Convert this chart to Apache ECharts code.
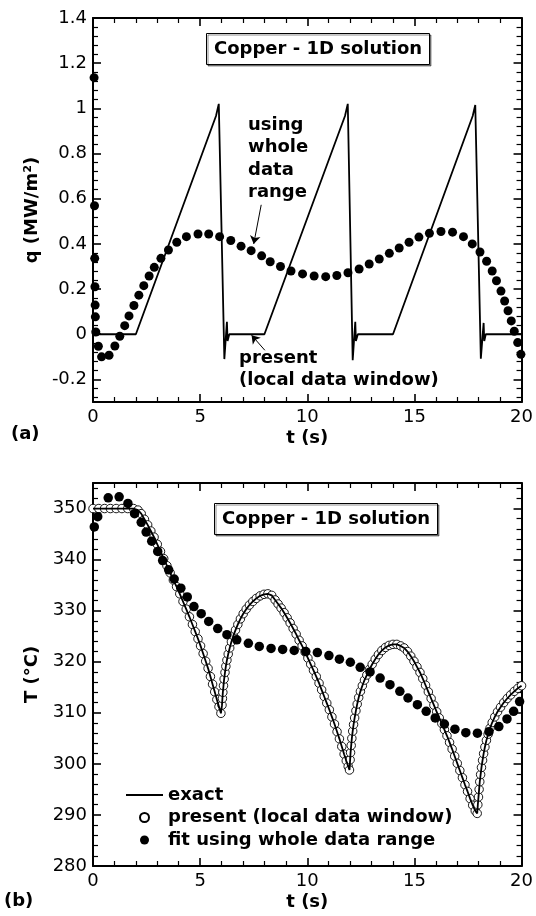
<!DOCTYPE html>
<html><head><meta charset="utf-8">
<script src="https://cdn.jsdelivr.net/npm/echarts@6/dist/echarts.min.js"></script>
<style>html,body{margin:0;padding:0;background:#fff}#c{width:536px;height:916px}</style>
</head><body><div id="c"></div>
<script>
// ================= DATA =================
// shared x axis (time, s)
const timeTicks = [0, 5, 10, 15, 20];

// (a) heat flux q (MW/m2): present (local data window) – line
const qLineTime = [0, 2, 5.74, 5.87, 6.13, 6.25, 6.28, 6.36, 8, 11.76, 11.89, 12.12, 12.24, 12.27, 12.36, 14, 17.72, 17.84, 18.1, 18.23, 18.26, 18.33, 20];
const qLineVal  = [0, 0, 0.966, 1.02, -0.11, 0.055, -0.03, 0, 0, 0.966, 1.02, -0.115, 0.055, -0.03, 0, 0, 0.966, 1.015, -0.108, 0.05, -0.03, 0, 0];

// (a) fit using whole data range – filled dots
const qFitTime = [0.05,0.07,0.08,0.09,0.1,0.11,0.13,0.25,0.4,0.75,1.02,1.25,1.48,1.68,1.91,2.14,2.37,2.62,2.86,3.17,3.52,3.91,4.36,4.9,5.4,5.91,6.43,6.91,7.38,7.87,8.27,8.75,9.24,9.78,10.32,10.86,11.38,11.9,12.42,12.89,13.36,13.83,14.29,14.75,15.21,15.7,16.24,16.78,17.29,17.7,18.06,18.37,18.63,18.83,19.04,19.21,19.37,19.52,19.66,19.82,19.97];
const qFitVal  = [1.136,0.569,0.336,0.21,0.129,0.077,0.01,-0.053,-0.1,-0.093,-0.052,-0.009,0.038,0.081,0.127,0.173,0.215,0.258,0.296,0.336,0.373,0.407,0.432,0.444,0.444,0.432,0.415,0.39,0.37,0.347,0.321,0.3,0.28,0.267,0.258,0.255,0.26,0.272,0.289,0.311,0.333,0.358,0.382,0.407,0.43,0.447,0.455,0.452,0.432,0.4,0.364,0.323,0.28,0.237,0.191,0.147,0.104,0.059,0.013,-0.037,-0.089];

// (a) annotation arrows [from, to] in (t, q)
const arrowUsing   = [[7.85, 0.573], [7.5, 0.40]];
const arrowPresent = [[8.02, -0.071], [7.4, -0.004]];

// (b) temperature T (°C): exact line, present circles lie on it
const tempTime = [0,0.27,0.54,0.81,1.08,1.35,1.62,1.89,
  2.1,2.25,2.4,2.55,2.7,2.85,3.0,3.15,3.3,3.45,3.6,3.75,3.9,4.05,4.2,4.35,4.5,4.64,4.77,4.9,5.02,5.14,5.26,5.37,5.48,5.58,5.68,5.78,5.88,5.97,
  6.02,6.04,6.06,6.09,6.12,6.16,6.2,6.25,6.31,6.38,6.46,6.55,6.65,6.76,6.88,7.01,7.15,7.3,7.46,7.62,7.8,7.98,8.16,8.34,
  8.5,8.64,8.78,8.92,9.06,9.2,9.34,9.48,9.62,9.76,9.9,10.03,10.16,10.29,10.42,10.55,10.67,10.79,10.91,11.03,11.15,11.27,11.39,11.5,11.61,11.72,11.82,11.91,11.97,
  12.0,12.02,12.05,12.08,12.12,12.16,12.21,12.27,12.33,12.4,12.48,12.57,12.67,12.78,12.9,13.03,13.17,13.32,13.48,13.65,13.82,14.0,14.18,14.36,
  14.52,14.68,14.83,14.98,15.12,15.26,15.39,15.52,15.65,15.78,15.91,16.04,16.16,16.28,16.4,16.52,16.64,16.76,16.88,17.0,17.12,17.24,17.36,17.48,17.6,17.72,17.84,17.93,
  17.96,17.99,18.02,18.05,18.09,18.13,18.18,18.23,18.29,18.36,18.44,18.53,18.63,18.75,18.88,19.02,19.17,19.33,19.49,19.66,19.83,20.0];
const tempVal = [350,350,350,350,350,350,350,350,
  349.7,349.0,347.9,346.8,345.6,344.4,343.0,341.6,340.2,338.8,337.4,336.0,334.7,333.3,331.8,330.3,328.8,327.3,325.9,324.5,323.1,321.6,320.1,318.7,317.1,315.6,314.1,312.6,311.2,309.9,
  311.5,312.8,314.0,315.3,316.6,317.9,319.1,320.3,321.5,322.7,323.9,325.1,326.2,327.3,328.4,329.4,330.3,331.1,331.8,332.4,332.9,333.2,333.3,333.0,
  332.1,331.3,330.5,329.6,328.6,327.6,326.5,325.4,324.2,323.1,321.9,320.7,319.5,318.3,317.1,315.8,314.5,313.2,311.9,310.6,309.2,307.8,306.3,304.9,303.4,301.9,300.6,299.5,298.8,
  300.8,302.2,303.6,305.0,306.4,307.7,309.0,310.4,311.7,313.0,314.2,315.3,316.4,317.4,318.5,319.5,320.5,321.4,322.2,322.8,323.2,323.4,323.4,323.1,
  322.7,322.0,321.1,320.1,319.0,317.9,316.7,315.4,314.1,312.8,311.5,310.2,309.0,307.9,306.7,305.5,304.2,302.9,301.5,300.1,298.7,297.3,295.9,294.6,293.2,291.9,290.8,290.3,
  292.0,293.5,295.0,296.5,297.9,299.3,300.7,302.0,303.3,304.6,305.8,307.0,308.1,309.2,310.2,311.1,312.0,312.8,313.5,314.2,314.8,315.3];

// (b) fit using whole data range – filled dots
const tempFitTime = [0.06,0.22,0.71,1.22,1.63,1.94,2.25,2.48,2.74,3.02,3.25,3.53,3.79,4.1,4.4,4.71,5.05,5.4,5.82,6.25,6.71,7.25,7.76,8.31,8.85,9.39,9.93,10.47,11.01,11.5,12.01,12.47,12.93,13.4,13.86,14.32,14.7,15.14,15.55,15.97,16.4,16.89,17.4,17.94,18.48,18.94,19.32,19.63,19.91];
const tempFitVal  = [346.4,348.4,352.1,352.3,351,349,347.3,345.4,343.6,341.6,339.8,338,336.2,334.4,332.7,330.8,329.4,327.9,326.5,325.3,324.3,323.6,323,322.6,322.4,322.2,322,321.8,321.2,320.5,319.9,318.9,318,316.8,315.5,314.2,312.9,311.6,310.3,309,307.8,306.8,306.1,306,306.3,307.3,308.8,310.3,312.2];

// ================= CHART =================
const FONT = 'DejaVu Sans';
const zip = (a, b) => a.map((v, i) => [v, b[i]]);
const chart = echarts.init(document.getElementById('c'), null, {renderer: 'canvas'});

const lineAx = {show: true, onZero: false, lineStyle: {color: '#000', width: 2}};
const tickAx = {show: true, inside: true, length: 8, lineStyle: {color: '#000', width: 1.6}};
const minorAx = (n) => ({show: true, splitNumber: n, length: 5, lineStyle: {color: '#000', width: 1.2}});
const nameStyle = {color: '#000', fontFamily: FONT, fontSize: 18, fontWeight: 'bold'};
const lblStyle = (show, extra) => Object.assign({show: show, color: '#000', fontFamily: FONT, fontSize: 18, margin: 6}, extra || {});

function xAx(grid, pos, show) {
  return {
    type: 'value', gridIndex: grid, position: pos,
    min: timeTicks[0], max: timeTicks[timeTicks.length - 1], interval: timeTicks[1] - timeTicks[0],
    axisLine: lineAx, axisTick: tickAx, minorTick: minorAx(5),
    splitLine: {show: false}, minorSplitLine: {show: false},
    axisLabel: lblStyle(show),
    name: show ? 't (s)' : '', nameLocation: 'middle', nameGap: 27, nameTextStyle: nameStyle
  };
}
function yAxQ(pos, show) {
  return {
    type: 'value', gridIndex: 0, position: pos, min: -0.3, max: 1.4, splitNumber: 8,
    axisLine: lineAx, axisTick: tickAx, minorTick: minorAx(5),
    splitLine: {show: false}, minorSplitLine: {show: false},
    axisLabel: lblStyle(show, {showMinLabel: false}),
    name: show ? 'q (MW/m²)' : '', nameLocation: 'middle', nameGap: 50, nameTextStyle: nameStyle
  };
}
function yAxT(pos, show) {
  return {
    type: 'value', gridIndex: 1, position: pos, min: 280, max: 355, interval: 10,
    axisLine: lineAx, axisTick: tickAx, minorTick: minorAx(5),
    splitLine: {show: false}, minorSplitLine: {show: false},
    axisLabel: lblStyle(show, {showMaxLabel: false}),
    name: show ? 'T (°C)' : '', nameLocation: 'middle', nameGap: 50, nameTextStyle: nameStyle
  };
}

const boxTitle = (left, top) => ({
  text: 'Copper - 1D solution', left: left, top: top,
  padding: [6, 8], borderColor: '#000', borderWidth: 1, backgroundColor: '#fff',
  shadowColor: 'rgba(0,0,0,0.45)', shadowBlur: 0, shadowOffsetX: 1.5, shadowOffsetY: 1.5,
  textStyle: {color: '#000', fontFamily: FONT, fontSize: 18, fontWeight: 'bold', lineHeight: 20}
});

const boldText = (left, top, text, lh) => ({
  type: 'text', left: left, top: top, z: 10,
  style: {text: text, fill: '#000', fontFamily: FONT, fontSize: 18, fontWeight: 'bold', lineHeight: lh || 22}
});

chart.setOption({
  animation: false,
  backgroundColor: '#fff',
  textStyle: {fontFamily: FONT},
  title: [boxTitle(206, 33), boxTitle(214, 503)],
  grid: [
    {left: 93, top: 18, width: 433, height: 384},
    {left: 93, top: 483, width: 433, height: 383}
  ],
  xAxis: [xAx(0, 'bottom', true), xAx(0, 'top', false), xAx(1, 'bottom', true), xAx(1, 'top', false)],
  yAxis: [yAxQ('left', true), yAxQ('right', false), yAxT('left', true), yAxT('right', false)],
  legend: {
    data: [
      {name: 'exact', itemStyle: {opacity: 0, borderWidth: 0}},
      'present (local data window)',
      'fit using whole data range'
    ],
    orient: 'vertical', left: 120, top: 779, itemWidth: 37, itemHeight: 9, itemGap: 0.5,
    selectedMode: false,
    textStyle: {color: '#000', fontFamily: FONT, fontSize: 18, fontWeight: 'bold', lineHeight: 22}
  },
  graphic: [
    boldText(248, 114, 'using\nwhole\ndata\nrange', 22.4),
    boldText(239, 347, 'present\n(local data window)', 22.5),
    boldText(11, 423, '(a)'),
    boldText(4, 890, '(b)')
  ],
  series: [
    {
      name: 'q present', type: 'line', xAxisIndex: 0, yAxisIndex: 0,
      data: zip(qLineTime, qLineVal), symbol: 'none',
      lineStyle: {color: '#000', width: 1.8}, z: 3,
      markLine: {
        silent: true, symbol: ['none', 'arrow'], symbolSize: 8,
        lineStyle: {color: '#000', width: 1, type: 'solid'}, label: {show: false},
        data: [
          [{coord: arrowUsing[0]}, {coord: arrowUsing[1]}],
          [{coord: arrowPresent[0]}, {coord: arrowPresent[1]}]
        ]
      }
    },
    {
      name: 'q fit', type: 'scatter', xAxisIndex: 0, yAxisIndex: 0,
      data: zip(qFitTime, qFitVal), symbol: 'circle', symbolSize: 9,
      itemStyle: {color: '#000', opacity: 1}, z: 4
    },
    {
      name: 'present (local data window)', type: 'scatter', xAxisIndex: 2, yAxisIndex: 2,
      data: zip(tempTime, tempVal), symbol: 'circle', symbolSize: 8.5,
      itemStyle: {color: '#fff', borderColor: '#000', borderWidth: 0.9, opacity: 1}, z: 2
    },
    {
      name: 'exact', type: 'line', xAxisIndex: 2, yAxisIndex: 2,
      data: zip(tempTime, tempVal), symbol: 'none',
      lineStyle: {color: '#000', width: 1.8}, itemStyle: {color: '#000'}, z: 3
    },
    {
      name: 'fit using whole data range', type: 'scatter', xAxisIndex: 2, yAxisIndex: 2,
      data: zip(tempFitTime, tempFitVal), symbol: 'circle', symbolSize: 9.5,
      itemStyle: {color: '#000', opacity: 1}, z: 4
    }
  ]
});
</script>
</body></html>
